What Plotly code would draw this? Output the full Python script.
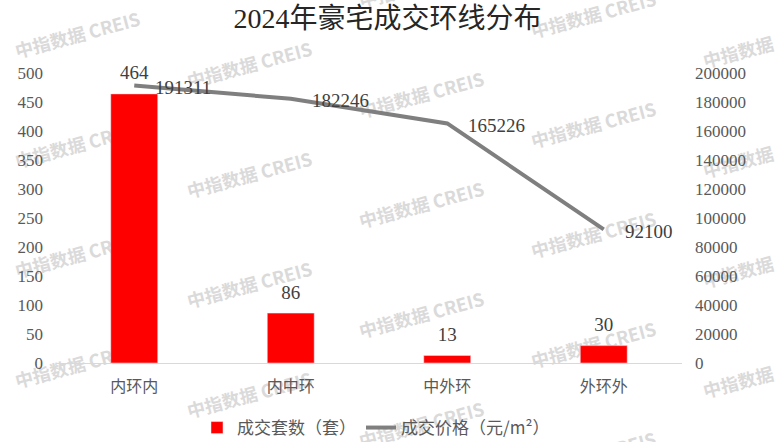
import base64
import plotly.graph_objects as go

categories = ["内环内", "内中环", "中外环", "外环外"]
deal_units = [464, 86, 13, 30]
deal_prices = [191311, 182246, 165226, 92100]
left_ticks = [0, 50, 100, 150, 200, 250, 300, 350, 400, 450, 500]
right_ticks = [0, 20000, 40000, 60000, 80000, 100000, 120000, 140000, 160000, 180000, 200000]

W, H = 775, 442
ML, MR, MT, MB = 56, 93, 73, 79
PW, PH = W - ML - MR, H - MT - MB

SERIF = "Liberation Serif, Noto Sans CJK SC, serif"
CJK = "Noto Sans CJK SC, sans-serif"

# watermark layer (SVG, placed beneath the traces)
marks = []
cols = [78, 250, 422, 594, 766]
for i, cx in enumerate(cols):
    base = 37 + 30 * i
    for k in range(-1, 5):
        cy = base + 110 * k
        if -40 < cy < H + 40:
            marks.append(
                f'<text x="{cx}" y="{cy}" transform="rotate(-15 {cx} {cy})" '
                f'text-anchor="middle" dominant-baseline="middle" '
                f'font-family="Noto Sans CJK SC, sans-serif" font-weight="bold" '
                f'font-size="18" fill="#dadada">中指数据 CREIS</text>'
            )
svg = (f'<svg xmlns="http://www.w3.org/2000/svg" width="{W}" height="{H}" '
       f'viewBox="0 0 {W} {H}">' + "".join(marks) + "</svg>")
svg_uri = "data:image/svg+xml;base64," + base64.b64encode(svg.encode("utf-8")).decode()

fig = go.Figure()
fig.add_trace(go.Bar(
    x=categories, y=deal_units, name="成交套数（套）",
    marker=dict(color="#ff0000"), width=0.3, yaxis="y",
    hoverinfo="x+y",
))
fig.add_trace(go.Scatter(
    x=categories, y=deal_prices, name="成交价格（元/m²）",
    mode="lines", line=dict(color="#7f7f7f", width=4),
    cliponaxis=False, yaxis="y2",
))
# bar data labels
fig.add_trace(go.Scatter(
    x=categories, y=deal_units, mode="markers+text", showlegend=False,
    marker=dict(size=14, color="rgba(0,0,0,0)"),
    text=[str(v) for v in deal_units], textposition="top center",
    textfont=dict(family=SERIF, size=19, color="#404040"),
    cliponaxis=False, yaxis="y", hoverinfo="skip",
))
# line data labels
price_labels = [
    dict(x=c, y=v, xref="x", yref="y2", text=str(v), showarrow=False,
         xanchor="left", yanchor="middle", xshift=19, yshift=-2,
         font=dict(family=SERIF, size=19, color="#404040"))
    for c, v in zip(categories, deal_prices)
]

fig.update_layout(
    width=W, height=H,
    margin=dict(l=ML, r=MR, t=MT, b=MB, autoexpand=False),
    paper_bgcolor="white", plot_bgcolor="rgba(0,0,0,0)",
    title=dict(text="2024年豪宅成交环线分布", x=0.5, xanchor="center",
               y=1 - 18 / H, yanchor="middle",
               font=dict(family=SERIF, size=28, color="#262626")),
    xaxis=dict(showgrid=False, showline=True, linecolor="#d9d9d9", linewidth=1,
               ticks="", tickfont=dict(family=CJK, size=16, color="#595959"),
               ticklabelstandoff=9, automargin=False),
    yaxis=dict(range=[0, 500], tickvals=left_ticks, showgrid=False, zeroline=False,
               showline=False, ticks="", ticklabelstandoff=12, automargin=False,
               tickformat="d",
               tickfont=dict(family=SERIF, size=17, color="#595959")),
    yaxis2=dict(range=[0, 200000], tickvals=right_ticks, overlaying="y", side="right",
                showgrid=False, zeroline=False, showline=False, ticks="",
                ticklabelstandoff=12, automargin=False, tickformat="d",
                tickfont=dict(family=SERIF, size=17, color="#595959")),
    legend=dict(orientation="h", xref="container", yref="container",
                x=376 / W, xanchor="center", y=(H - 428) / H, yanchor="middle",
                font=dict(family=CJK, size=17, color="#595959"),
                bgcolor="rgba(0,0,0,0)"),
    showlegend=True,
    annotations=price_labels,
    images=[dict(source=svg_uri, xref="paper", yref="paper",
                 x=-ML / PW, y=1 + MT / PH, sizex=W / PW, sizey=H / PH,
                 xanchor="left", yanchor="top", sizing="stretch", layer="below")],
)

fig.write_html("out.html", config={"displayModeBar": False},
               post_script="document.body.style.margin='0px';")
